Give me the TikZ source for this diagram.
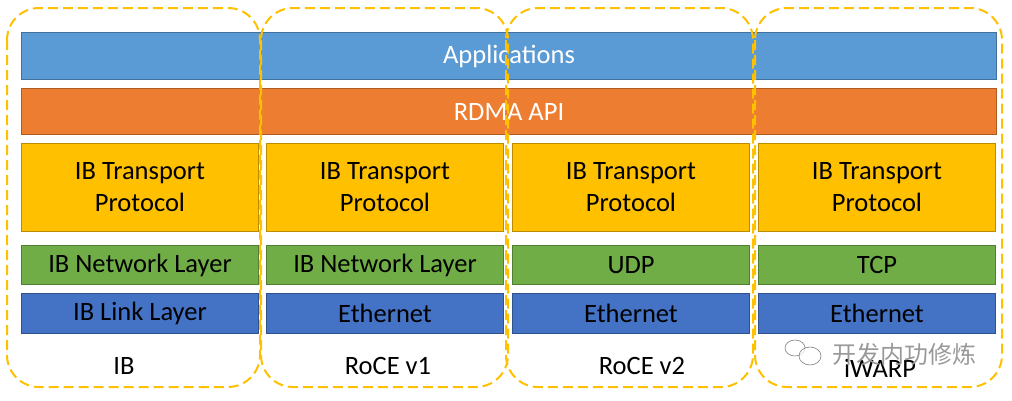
\documentclass[tikz,border=0pt]{standalone}
\usepackage{fontspec}
\setmainfont{Carlito}
\newfontfamily\cjkfont{Noto Sans CJK SC}
\definecolor{appblue}{HTML}{5B9BD5}
\definecolor{appedge}{HTML}{41719C}
\definecolor{apiorange}{HTML}{ED7D31}
\definecolor{apiedge}{HTML}{AE5A21}
\definecolor{tpyellow}{HTML}{FFC000}
\definecolor{tpedge}{HTML}{BC8C00}
\definecolor{netgreen}{HTML}{70AD47}
\definecolor{netedge}{HTML}{507E32}
\definecolor{linkblue}{HTML}{4472C4}
\definecolor{linkedge}{HTML}{2F528F}
\begin{document}
\begin{tikzpicture}[x=1pt, y=-1pt,
	layer/.style={draw, line width=1pt, inner sep=0pt, anchor=north west,
		font=\fontsize{26.5}{32}\selectfont, align=center},
	apps/.style={layer, fill=appblue, draw=appedge, text=white, minimum width=975pt, minimum height=47pt},
	api/.style={layer, fill=apiorange, draw=apiedge, text=white, minimum width=975pt, minimum height=46pt},
	transport/.style={layer, fill=tpyellow, draw=tpedge, minimum width=237pt, minimum height=88pt},
	netlayer/.style={layer, fill=netgreen, draw=netedge, minimum width=237pt, minimum height=39pt},
	linklayer/.style={layer, fill=linkblue, draw=linkedge, minimum width=237pt, minimum height=40pt},
	family/.style={draw=tpyellow, line width=2pt, dash pattern=on 10pt off 5pt, rounded corners=32pt},
	famlabel/.style={font=\fontsize{26.5}{30}\selectfont}]

	\useasboundingbox (0,0) rectangle (1012,400);

	% shared layers
	\node[apps] (app) at (21,32) {Applications};
	\node[api] (rdma) at (21,88) {RDMA API};

	% IB
	\node[transport] (tpib) at (21,143) {IB Transport\\Protocol};
	\node[netlayer] (netib) at (21,245) {IB Network Layer};
	\node[linklayer] (linkib) at (21,293) {IB Link Layer};

	% RoCE v1
	\node[transport] (tpva) at (266,143) {IB Transport\\Protocol};
	\node[netlayer] (netva) at (266,245) {IB Network Layer};
	\node[linklayer] (linkva) at (266,293) {Ethernet};

	% RoCE v2
	\node[transport] (tpvb) at (512,143) {IB Transport\\Protocol};
	\node[netlayer] (netvb) at (512,245) {UDP};
	\node[linklayer] (linkvb) at (512,293) {Ethernet};

	% iWARP
	\node[transport] (tpiw) at (758,143) {IB Transport\\Protocol};
	\node[netlayer] (netiw) at (758,245) {TCP};
	\node[linklayer] (linkiw) at (758,293) {Ethernet};

	% dashed groups
	\draw[family] (7,8) rectangle (260,387);
	\draw[family] (261,8) rectangle (508,387);
	\draw[family] (506,8) rectangle (753,387);
	\draw[family] (755,8) rectangle (1002,387);

	\node[famlabel] (ib) at (124,366) {IB};
	\node[famlabel] (rocea) at (388,366) {RoCE v1};
	\node[famlabel] (roceb) at (642,366) {RoCE v2};
	\node[famlabel] (iwarp) at (880,368) {iWARP};

	% watermark
	\draw[gray, line width=0.6pt, fill=white, fill opacity=0.7] (795,348) ellipse (10pt and 8pt);
	\draw[gray, line width=0.6pt, fill=white, fill opacity=0.7] (810,356) ellipse (11pt and 9pt);
	\node[text=gray!80, font=\cjkfont\fontsize{24}{28}\selectfont, inner sep=0pt] (mark) at (904,354) {开发内功修炼};
\end{tikzpicture}
\end{document}
